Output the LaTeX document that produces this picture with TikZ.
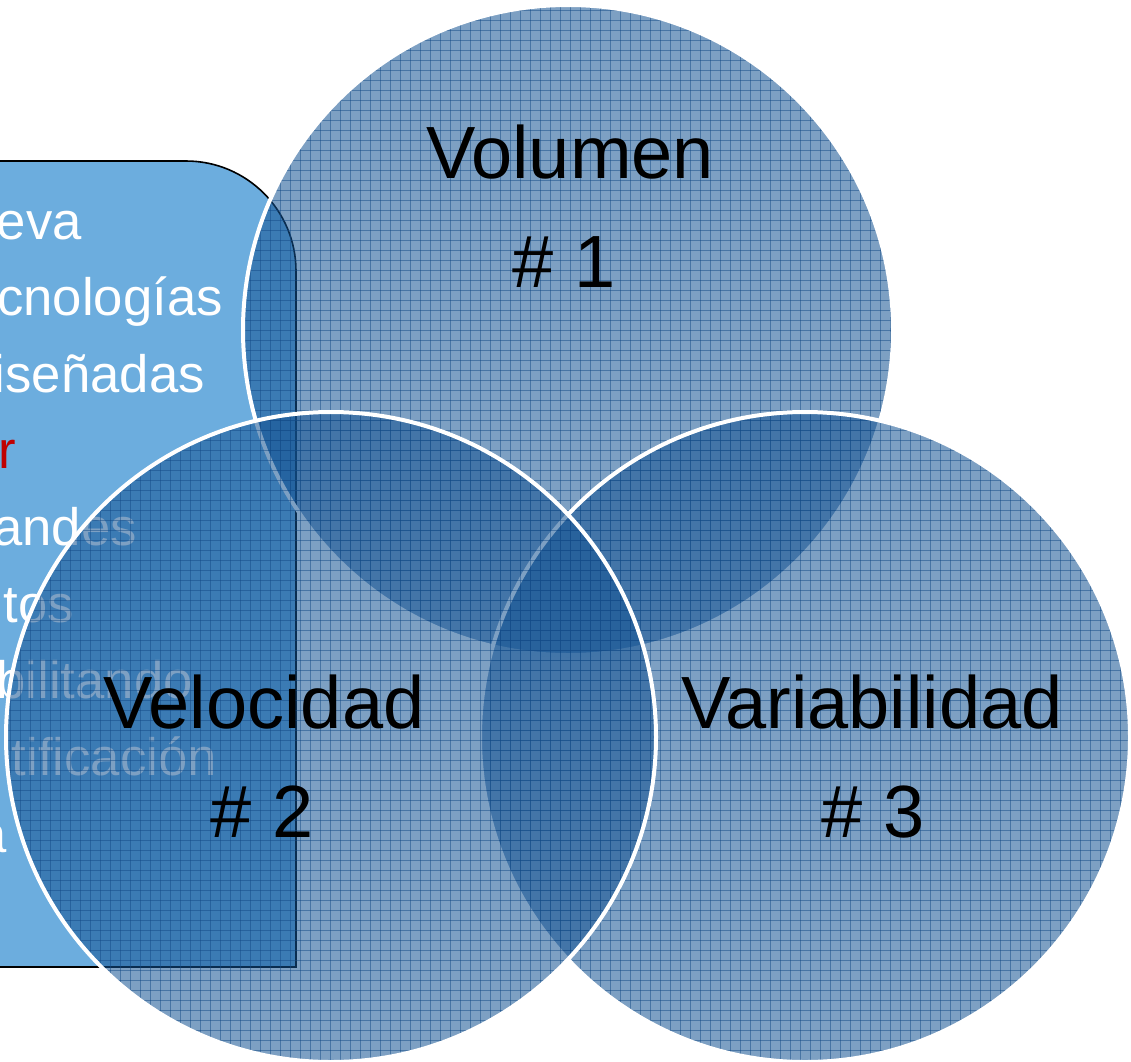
\documentclass[tikz,border=0pt]{standalone}
\usepackage{fontspec}
\setmainfont{Liberation Sans}
\definecolor{rectblue}{RGB}{108,173,222}
\definecolor{circblue}{RGB}{19,82,146}
\definecolor{gridblue}{RGB}{20,75,135}
\definecolor{textred}{RGB}{192,0,0}
\newcommand\venncircle[1]{%
  \fill[circfill] (#1) circle (325);
  \begin{scope}
    \clip (#1) circle (325);
    \foreach \k in {0,...,113} {\draw[gridline] (\k*10,0) -- (\k*10,1061);}
    \foreach \k in {0,...,106} {\draw[gridline] (0,\k*10) -- (1131,\k*10);}
  \end{scope}
  \draw[circedge] (#1) circle (325);
}
\begin{document}
\begin{tikzpicture}[x=0.75pt,y=-0.75pt,
  recttext/.style={text=white, font=\fontsize{39.5}{46}\selectfont, anchor=base east, inner sep=0pt},
  venntitle/.style={text=black, font=\fontsize{55.5}{64}\selectfont, anchor=base, inner sep=0pt},
  circfill/.style={fill=circblue, fill opacity=0.55},
  circedge/.style={draw=white, line width=3pt},
  gridline/.style={draw=gridblue, line width=0.75pt, opacity=0.5},
  panel/.style={fill=rectblue, draw=black, line width=1.2pt}]
\useasboundingbox (0,0) rectangle (1131,1061);
\clip (0,0) rectangle (1131,1061);
\coordinate (c1) at (568,330);
\coordinate (c2) at (331,737);
\coordinate (c3) at (805,737);
% panel
\draw[panel] (-20,161) -- (186,161) .. controls (246.75,161) and (296,210.25) .. (296,271) -- (296,967) -- (-20,967) -- cycle;
\node[recttext] (l1) at (82,239) {eva};
\node[recttext] (l2) at (223,315) {cnologías};
\node[recttext] (l3) at (205,392) {iseñadas};
\node[recttext, text=textred] (l4) at (16,468) {r};
\node[recttext] (l5) at (137,545) {andes};
\node[recttext] (l6) at (74,622) {tos};
\node[recttext] (l7) at (193,698) {bilitando};
\node[recttext] (l8) at (217,775) {tificación};
\node[recttext] (l9) at (7,852) {a};
% circles
\venncircle{c1}
\venncircle{c3}
\venncircle{c2}
% titles
\node[venntitle] (t1) at (570,178) {Volumen};
\node[venntitle] (n1) at (564,287) {\# 1};
\node[venntitle] (t2) at (264,728) {Velocidad};
\node[venntitle] (n2) at (262,837) {\# 2};
\node[venntitle] (t3) at (872,728) {Variabilidad};
\node[venntitle] (n3) at (873,837) {\# 3};
\end{tikzpicture}
\end{document}
